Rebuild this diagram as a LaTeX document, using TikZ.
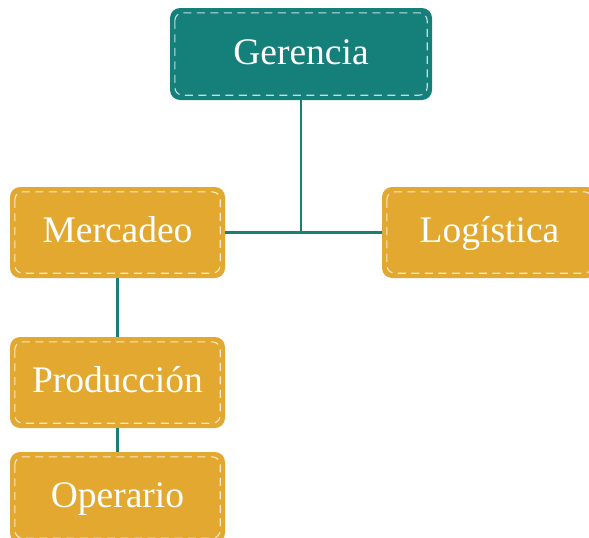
\documentclass[tikz,border=0pt]{standalone}
\usepackage{fontspec}
\setmainfont{Liberation Serif}
\definecolor{tealbox}{HTML}{158079}
\definecolor{goldbox}{HTML}{E3A82F}
\definecolor{linkcol}{HTML}{168077}
\begin{document}
\begin{tikzpicture}[x=1pt,y=-1pt,
  box/.style={rounded corners=10pt, minimum height=91pt, minimum width=215pt,
    inner sep=0pt, text=white, text height=28pt, text depth=8pt,
    font=\fontsize{37.5}{40}\selectfont},
  topbox/.style={box, fill=tealbox, minimum width=262pt, minimum height=92pt},
  subbox/.style={box, fill=goldbox},
  innerdash/.style={draw=white, draw opacity=0.75, line width=1.1pt,
    dash pattern=on 8pt off 5.5pt, rounded corners=8pt},
  link/.style={draw=linkcol, line width=2.2pt}]
\useasboundingbox (0,0) rectangle (589,538);
\node[topbox] (ger) at (301,54) {Gerencia};
\node[subbox] (mer) at (117.5,232.5) {Mercadeo};
\node[subbox] (log) at (489.5,232.5) {Logística};
\node[subbox] (pro) at (117.5,382.5) {Producción};
\node[subbox] (ope) at (117.5,497.5) {Operario};
\foreach \n in {ger,mer,log,pro,ope}
  \draw[innerdash] ([shift={(5pt,-5pt)}]\n.north west) rectangle ([shift={(-5pt,5pt)}]\n.south east);
\draw[link] (ger.south) -- (ger.south |- mer.east);
\draw[link] (mer.east) -- (log.west);
\draw[link] (mer.south) -- (pro.north);
\draw[link] (pro.south) -- (ope.north);
\end{tikzpicture}
\end{document}
